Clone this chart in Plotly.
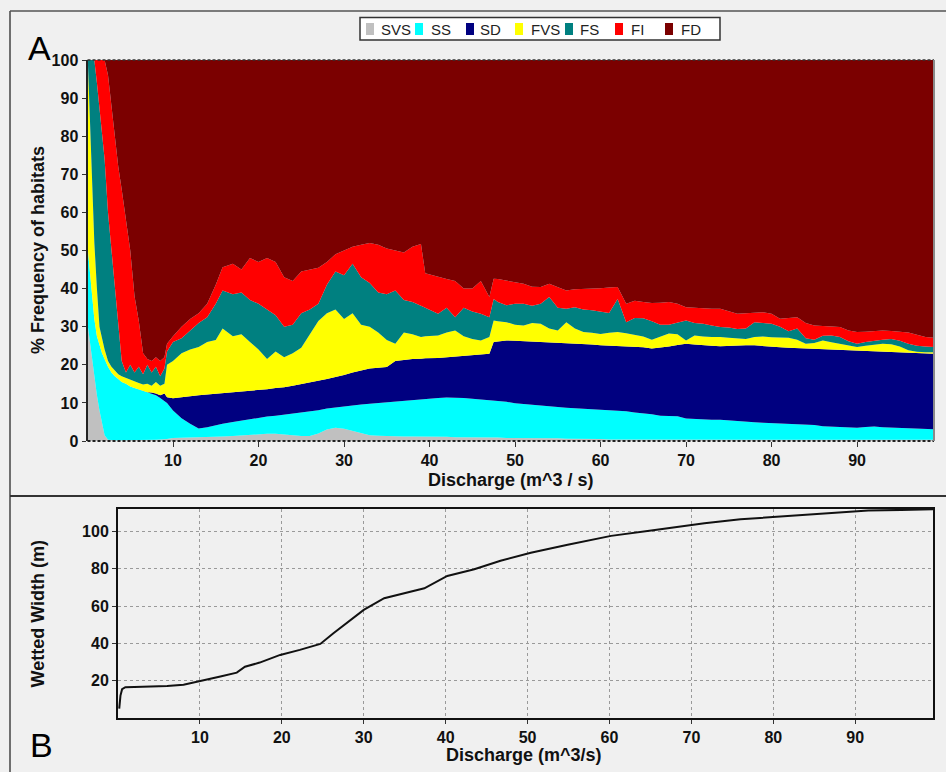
import numpy as np
import plotly.graph_objects as go

# ---------------- Panel A data: upper edge (cumulative %) of each habitat class ----------------
discharge = [0.05, 0.5, 0.8, 1.1, 1.4, 1.7, 2.0, 2.4, 2.8, 3.2, 3.6, 4.0, 4.5, 5.0, 5.5, 6.0, 6.5, 7.0, 7.5,
             8.0, 8.5, 9.0, 9.3, 10, 11, 12, 13, 14, 15, 15.8, 17, 18, 19, 20, 21, 22, 23, 24, 25, 26, 27,
             28, 29, 30, 31, 32, 33, 34, 35, 36, 37, 38, 39, 39.5, 41, 42, 43, 44, 45, 46, 47, 47.5, 48,
             49, 50, 51, 52, 53, 54, 55, 56, 57, 58, 59, 60, 61, 62, 63, 64, 65, 66, 67, 68, 69, 70, 71,
             72, 73, 74, 75, 76, 77, 78, 79, 80, 81, 82, 83, 84, 85, 86, 87, 88, 89, 90, 91, 92, 93, 94,
             95, 96, 97, 98, 99]

svs_top = [30, 22, 17, 12, 8, 5, 1.5, 0.3, 0.2, 0.2, 0.2, 0.2, 0.2, 0.2, 0.3, 0.3, 0.3, 0.3, 0.3,
           0.3, 0.4, 0.4, 0.5, 0.8, 0.9, 1, 1, 1.1, 1.2, 1.2, 1.3, 1.5, 1.6, 1.8, 1.9, 1.9, 1.7, 1.5, 1.3, 1.3, 2,
           3, 3.5, 3.2, 2.6, 2.2, 1.5, 1.4, 1.3, 1.3, 1.2, 1.2, 1.2, 1.1, 1.1, 1.1, 1, 1, 1, 1, 1, 0.9, 0.9,
           0.8, 0.8, 0.8, 0.7, 0.7, 0.8, 0.7, 0.6, 0.6, 0.5, 0.5, 0.5, 0.4, 0.4, 0.4, 0.3, 0.3, 0.3, 0.3, 0.4, 0.3, 0.3, 0.3,
           0.3, 0.3, 0.3, 0.3, 0.3, 0.3, 0.3, 0.3, 0.3, 0.3, 0.3, 0.3, 0.3, 0.3, 0.3, 0.3, 0.3, 0.3, 0.3, 0.3, 0.3, 0.3, 0.3,
           0.3, 0.3, 0.3, 0.3, 0.3]

ss_top = [50, 38, 32, 27.5, 25, 23, 21.5, 19.5, 18, 17, 16.3, 15.5, 15, 14.3, 13.9, 13.5, 13.2, 12.8, 12.5,
          12, 11.3, 10.5, 10, 8, 6, 4.5, 3.3, 3.6, 4.2, 4.5, 5, 5.4, 5.8, 6.2, 6.4, 6.6, 6.9, 7.1, 7.5, 7.8, 8.1,
          8.5, 8.8, 9.1, 9.4, 9.6, 9.8, 10, 10.2, 10.4, 10.6, 10.8, 11, 11.1, 11.3, 11.4, 11.4, 11.3, 11.1, 10.9, 10.7, 10.6, 10.5,
          10.3, 9.9, 9.7, 9.4, 9.2, 9.0, 8.8, 8.7, 8.6, 8.5, 8.4, 8.2, 8.1, 8.0, 7.8, 7.5, 7.3, 7.0, 6.6, 6.6, 6.5, 5.9, 5.8,
          5.6, 5.6, 5.6, 5.4, 5.2, 5.0, 4.9, 4.8, 4.7, 4.6, 4.5, 4.5, 4.4, 4.2, 3.9, 3.8, 3.7, 3.6, 3.5, 3.7, 3.8, 3.6, 3.5,
          3.4, 3.3, 3.2, 3.1, 3.1]

sd_top = [50, 38, 32, 27.5, 25, 23, 21.5, 19.5, 18, 17, 16.3, 15.5, 15, 14.3, 13.9, 13.5, 13.2, 12.8, 12.7,
          12.5, 12, 12.5, 11.5, 11.2, 11.5, 11.8, 12, 12.2, 12.4, 12.5, 12.7, 12.9, 13.2, 13.4, 13.6, 13.9, 14.1, 14.5, 14.9, 15.3, 15.8,
          16.3, 16.8, 17.3, 18, 18.5, 19, 19.2, 19.4, 21, 21.3, 21.5, 21.6, 21.7, 21.8, 22, 22.1, 22.3, 22.5, 22.7, 22.9, 26, 26.2,
          26.4, 26.3, 26.2, 26.1, 26, 25.9, 25.8, 25.6, 25.5, 25.4, 25.3, 25.1, 25, 24.9, 24.8, 24.7, 24.6, 24.3, 24.5, 24.8, 25.2, 25.5, 25.3,
          25.1, 25, 24.9, 25, 25, 25.1, 25.1, 24.9, 24.8, 24.6, 24.5, 24.4, 24.3, 24.2, 24.1, 24, 23.9, 23.8, 23.7, 23.6, 23.5, 23.4, 23.3,
          23.2, 23.1, 23, 22.9, 22.9]

fvs_top = [99, 70, 52, 40, 30, 27, 24, 21, 19.5, 18.5, 17.5, 17, 16.5, 16, 15.5, 15.2, 14.8, 15, 14.5,
           15.5, 14.5, 15, 20, 21, 23, 24, 24.7, 26, 26.5, 29.5, 27.5, 28, 26, 24, 21.5, 23.5, 22, 23, 24.5, 28, 31.5,
           33.5, 34.5, 32, 33.5, 30.5, 30, 28.5, 26.5, 25.5, 28.5, 28, 27.3, 27.5, 27.7, 28.5, 29, 27.5, 26.8, 26.4, 27.3, 31.6, 31.4,
           31.2, 30.5, 30.3, 31, 30.8, 29.5, 29, 31.2, 29.5, 28.6, 28.4, 28.1, 28.4, 28.6, 28.3, 27.8, 27.4, 26.6, 27.5, 28.2, 28, 26.4, 27.7,
           27.4, 27.3, 27.3, 27.1, 26.9, 26.8, 27.3, 27.4, 27.2, 27.1, 27.1, 26.6, 25.5, 25.7, 26.4, 25.9, 25.5, 25, 24.7, 25, 25.3, 25.5, 25.4,
           24.8, 23.8, 23.4, 23.3, 23.3]

fs_top = [100, 100, 100, 94, 87, 80, 74, 60, 50, 40, 30, 21, 18, 20, 18, 19.5, 17.5, 20, 18,
          19.5, 17, 19, 23.5, 26, 27, 29, 31, 32.5, 36, 39.5, 38.5, 39, 37, 36, 34.5, 33, 30, 30.5, 33.5, 34.5, 36,
          41, 44.5, 43.5, 46.5, 43, 41.5, 39, 38.5, 39.5, 37, 36.5, 35.5, 35, 33.4, 35, 32.5, 35, 34, 33.4, 32.5, 37.3, 36.5,
          35.6, 36, 36, 35.5, 36, 37.8, 35, 34.7, 35.1, 34.5, 34.3, 34, 33.6, 37.3, 31.2, 32.3, 32.2, 31.4, 30.5, 30.5, 31, 31.6, 31,
          30.8, 30.3, 29.9, 29.8, 29.4, 29.5, 31.2, 31, 30.8, 30, 28.8, 29.5, 27, 26.6, 27.6, 27.7, 27.3, 26.2, 25.5, 26, 26.4, 26.6, 26.8,
          26.3, 25.5, 25, 24.8, 24.7]

fi_top = [100, 100, 100, 100, 100, 100, 100, 96, 88, 80.5, 72, 66, 58, 50, 38, 31.5, 23, 21.5, 21,
          22, 21, 22, 25.5, 27.5, 30, 32, 33.5, 36, 41, 45.6, 46.5, 45, 48, 47, 48, 47, 43, 42, 44.5, 45, 45.5,
          47, 49, 50, 51, 51.5, 52, 51.5, 50.5, 50, 49.5, 51, 51.7, 44, 43, 42.5, 42, 40, 40, 42, 37.8, 42.6, 42.5,
          42.1, 41.8, 41.3, 40.5, 40.4, 41.3, 40.5, 39.5, 39.8, 39.9, 39.9, 40.1, 40.3, 40.4, 36, 36.8, 36.5, 36.2, 36.3, 36.5, 36, 35.1, 35,
          34.8, 34.7, 34.7, 34, 33.4, 33.5, 33.7, 33.8, 33.4, 32.1, 32.3, 32.5, 31, 30.3, 30.2, 30.1, 29.9, 29, 28.6, 28.7, 28.8, 29, 28.9,
          28.7, 28.5, 27.9, 27.3, 27.1]

classes = ["SVS", "SS", "SD", "FVS", "FS", "FI", "FD"]
class_colors = ["#c0c0c0", "#00ffff", "#000080", "#ffff00", "#008080", "#ff0000", "#7b0000"]

# ---------------- Panel B data: wetted width ----------------
width_discharge = [0.15, 0.3, 0.5, 0.9, 2, 4, 6, 8, 9.2, 10.8, 12.5, 14.5, 15.5, 17.3, 19.8, 22.2, 24.7,
                   26.3, 27.9, 30, 32.5, 34.9, 37.4, 40.2, 43.5, 46.7, 50.4, 54.9, 60.2, 65.1, 71.6, 76,
                   81.6, 86, 91.6, 95.6, 99.5]
wetted_width = [5, 12, 15.4, 16.5, 16.6, 16.8, 17.2, 17.8, 18.9, 20.7, 22.2, 24.3, 27.5, 29.7, 33.8, 36.5,
                39.7, 45.4, 50.8, 57.9, 64.2, 66.9, 69.5, 76.1, 79.7, 84.3, 88.6, 92.8, 97.6, 100.5, 104.4,
                106.5, 108.3, 109.8, 111.2, 111.5, 111.9]

x_ticks = [10, 20, 30, 40, 50, 60, 70, 80, 90]
pct_ticks = [0, 10, 20, 30, 40, 50, 60, 70, 80, 90, 100]
width_ticks = [20, 40, 60, 80, 100]

# ---------------- build ----------------
W, H = 946, 772
def px(v):
    return v / W
def py(v):
    return 1 - v / H

n = len(discharge)
edges = np.array([np.zeros(n), svs_top, ss_top, sd_top, fvs_top, fs_top, fi_top, np.full(n, 100.0)], dtype=float)

fig = go.Figure()
for i, (name, col) in enumerate(zip(classes, class_colors)):
    fig.add_trace(go.Scatter(
        x=discharge, y=edges[i + 1] - edges[i], name=name, stackgroup="hab",
        mode="lines", line=dict(width=0, color=col), fillcolor=col,
        showlegend=False, xaxis="x", yaxis="y"))

fig.add_trace(go.Scatter(x=width_discharge, y=wetted_width, mode="lines",
                         line=dict(color="#111111", width=2), showlegend=False,
                         xaxis="x2", yaxis="y2"))

FONT = "Liberation Sans, Arial, sans-serif"
tickfont = dict(family=FONT, size=16, color="#111111", weight="bold")

fig.update_layout(
    width=W, height=H, margin=dict(l=0, r=0, t=0, b=0, pad=0, autoexpand=False),
    paper_bgcolor="#f0f0f0", plot_bgcolor="#f0f0f0",
    showlegend=False,
    xaxis=dict(domain=[px(87.5), px(934)], range=[0, 99], tickvals=x_ticks,
               ticks="outside", ticklen=5, tickcolor="#333", showline=False, automargin=False,
               showgrid=False, zeroline=False, anchor="y", tickfont=tickfont),
    yaxis=dict(domain=[py(441), py(60)], range=[0, 100], tickvals=pct_ticks,
               ticks="outside", ticklen=4, tickcolor="#333", showline=True, automargin=False,
               linecolor="#222", linewidth=2, showgrid=False, zeroline=False,
               anchor="x", tickfont=tickfont),
    xaxis2=dict(domain=[px(118), px(933)], range=[0, 99.5], tickvals=x_ticks, automargin=False,
                ticks="outside", ticklen=4, tickcolor="#333", showline=True, mirror=True,
                linecolor="#111", linewidth=2, showgrid=True, gridcolor="#9a9a9a",
                griddash="3px,3px", gridwidth=1, zeroline=False, anchor="y2", tickfont=tickfont),
    yaxis2=dict(domain=[py(718), py(509)], range=[0, 112], tickvals=width_ticks, automargin=False,
                ticks="outside", ticklen=4, tickcolor="#333", showline=True, mirror=True,
                linecolor="#111", linewidth=2, showgrid=True, gridcolor="#9a9a9a",
                griddash="3px,3px", gridwidth=1, zeroline=False, anchor="x2", tickfont=tickfont),
)

shapes = [
    # panel A frame
    dict(type="line", xref="x domain", yref="y domain", x0=0, x1=1, y0=1, y1=1,
         line=dict(color="#333", width=1.5, dash="3px,2px")),
    dict(type="line", xref="x domain", yref="y domain", x0=0, x1=1, y0=0, y1=0,
         line=dict(color="#222", width=2, dash="3px,2px")),
    dict(type="line", xref="x domain", yref="y domain", x0=1, x1=1, y0=0, y1=1,
         line=dict(color="#8a8a8a", width=2)),
    # outer panel borders
    dict(type="line", xref="paper", yref="paper", x0=px(10), x1=px(10), y0=py(11), y1=0,
         line=dict(color="#444", width=1.5)),
    dict(type="line", xref="paper", yref="paper", x0=px(10), x1=1, y0=py(11), y1=py(11),
         line=dict(color="#555", width=1.5)),
    dict(type="line", xref="paper", yref="paper", x0=px(10), x1=1, y0=py(496), y1=py(496),
         line=dict(color="#333", width=2)),
    # legend box
    dict(type="rect", xref="paper", yref="paper", x0=px(360), x1=px(720), y0=py(40), y1=py(17.5),
         fillcolor="white", line=dict(color="#333", width=1.5)),
]
legend_sq = [366, 415, 466, 515, 565, 615, 665]
legend_tx = [380, 430, 479, 530, 579, 630, 680]
annotations = []
for name, col, sx, tx in zip(classes, class_colors, legend_sq, legend_tx):
    shapes.append(dict(type="rect", xref="paper", yref="paper", x0=px(sx), x1=px(sx + 8),
                       y0=py(35), y1=py(23), fillcolor=col, line=dict(width=0)))
    annotations.append(dict(text=name, xref="paper", yref="paper", x=px(tx - 1), y=py(29.5),
                            xanchor="left", yanchor="middle", showarrow=False,
                            font=dict(family=FONT, size=15, color="#222")))

annotations += [
    dict(text="A", xref="paper", yref="paper", x=px(26), y=py(47.5), xanchor="left", yanchor="middle",
         showarrow=False, font=dict(family=FONT, size=34, color="#000")),
    dict(text="B", xref="paper", yref="paper", x=px(28), y=py(744.5), xanchor="left", yanchor="middle",
         showarrow=False, font=dict(family=FONT, size=34, color="#000")),
    dict(text="% Frequency of habitats", xref="paper", yref="paper", x=px(37.5), y=py(250.5),
         xanchor="center", yanchor="middle", textangle=-90, showarrow=False,
         font=dict(family=FONT, size=18, color="#111", weight="bold")),
    dict(text="Discharge (m^3 / s)", xref="paper", yref="paper", x=px(511), y=py(480),
         xanchor="center", yanchor="middle", showarrow=False,
         font=dict(family=FONT, size=18, color="#111", weight="bold")),
    dict(text="Wetted Width (m)", xref="paper", yref="paper", x=px(37.5), y=py(614),
         xanchor="center", yanchor="middle", textangle=-90, showarrow=False,
         font=dict(family=FONT, size=18, color="#111", weight="bold")),
    dict(text="Discharge (m^3/s)", xref="paper", yref="paper", x=px(524), y=py(755),
         xanchor="center", yanchor="middle", showarrow=False,
         font=dict(family=FONT, size=18, color="#111", weight="bold")),
]

fig.update_layout(shapes=shapes, annotations=annotations)
fig.write_html("out.html")
